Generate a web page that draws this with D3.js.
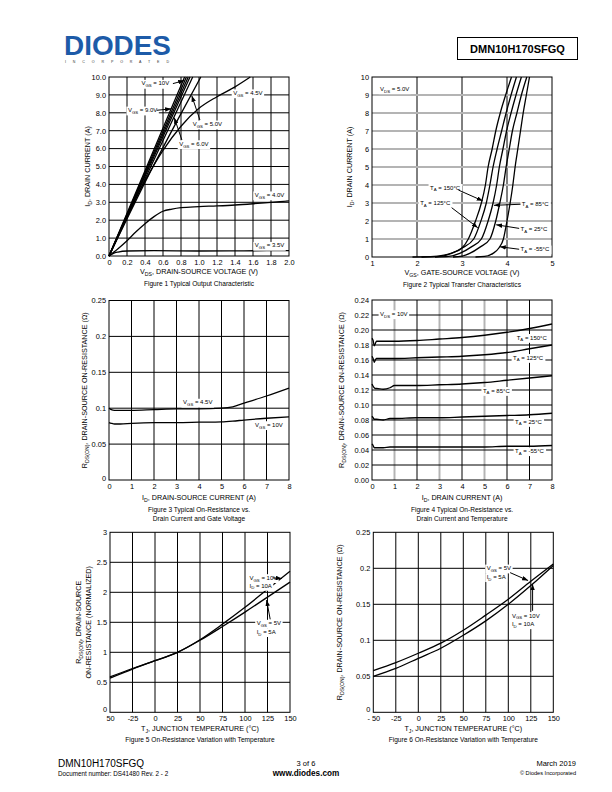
<!DOCTYPE html>
<html lang="en">
<head>
<meta charset="utf-8">
<title>DMN10H170SFGQ Typical Characteristics</title>
<style>
   html,body { margin:0; padding:0; background:white; }
   svg { display:block; font-family:"Liberation Sans", Arial, sans-serif; }
</style>
<script src="https://cdn.jsdelivr.net/npm/d3@7"></script>
</head>
<body>
<script>
// ---- Figure 1: output characteristic, [VDS (V), ID (A)]
const f1XTicks = [0,0.2,0.4,0.6,0.8,1.0,1.2,1.4,1.6,1.8,2.0];
const f1XLabels = ['0','0.2','0.4','0.6','0.8','1.0','1.2','1.4','1.6','1.8','2.0'];
const f1YTicks = [0,1,2,3,4,5,6,7,8,9,10];
const f1YLabels = ['0.0','1.0','2.0','3.0','4.0','5.0','6.0','7.0','8.0','9.0','10.0'];
const f1Vgs10 = [[0,0],[0.42,5],[0.84,10]];
const f1Vgs9 = [[0,0],[0.43,5],[0.86,10]];
const f1Vgs8 = [[0,0],[0.44,5],[0.88,10]];
const f1Vgs7 = [[0,0],[0.45,5],[0.90,10]];
const f1Vgs6 = [[0,0],[0.465,5],[0.93,10]];
const f1Vgs5 = [[0,0],[0.49,5],[0.73,7.3],[1.02,10]];
const f1Vgs45 = [[0,0],[0.2,2.2],[0.4,4.2],[0.6,5.9],[0.8,7.25],[1.0,8.25],[1.2,8.9],[1.4,9.45],[1.57,10]];
const f1Vgs4 = [[0,0],[0.1,0.4],[0.2,0.85],[0.3,1.35],[0.4,1.8],[0.5,2.2],[0.6,2.5],[0.7,2.62],[0.8,2.7],[1.0,2.76],[1.2,2.8],[1.4,2.85],[1.6,2.92],[1.8,3.0],[2.0,3.08]];
const f1Vgs35 = [[0,0],[0.05,0.15],[0.1,0.22],[0.2,0.28],[0.5,0.3],[1.0,0.28],[1.5,0.29],[2.0,0.3]];

// ---- Figure 2: transfer characteristic, [VGS (V), ID (A)]
const f2XTicks = [1,2,3,4,5];
const f2XLabels = ['1','2','3','4','5'];
const f2YTicks = [0,1,2,3,4,5,6,7,8,9,10];
const f2YLabels = ['0','1','2','3','4','5','6','7','8','9','10'];
const f2Ta150 = [[1.9,0],[2.3,0.02],[2.6,0.1],[2.8,0.25],[3.0,0.5],[3.14,1],[3.3,2],[3.43,3],[3.52,4],[3.58,5],[3.67,6],[3.75,7],[3.85,8],[3.97,9],[4.10,10]];
const f2Ta125 = [[2.1,0],[2.5,0.03],[2.77,0.2],[3.0,0.5],[3.26,1],[3.42,2],[3.54,3],[3.62,4],[3.69,5],[3.78,6],[3.88,7],[3.98,8],[4.09,9],[4.21,10]];
const f2Ta85 = [[2.4,0],[2.7,0.03],[2.95,0.2],[3.2,0.55],[3.43,1],[3.58,2],[3.69,3],[3.77,4],[3.83,5],[3.91,6],[3.99,7],[4.09,8],[4.2,9],[4.32,10]];
const f2Ta25 = [[2.8,0],[3.0,0.05],[3.17,0.2],[3.4,0.55],[3.62,1],[3.75,2],[3.84,3],[3.92,4],[3.98,5],[4.05,6],[4.12,7],[4.22,8],[4.32,9],[4.44,10]];
const f2Tam55 = [[3.3,0],[3.5,0.03],[3.69,0.2],[3.82,0.5],[3.92,1],[4.0,2],[4.07,3],[4.13,4],[4.18,5],[4.24,6],[4.30,7],[4.36,8],[4.43,9],[4.50,10]];

// ---- Figure 3: RDS(ON) vs ID and VGS
const f3XTicks = [0,1,2,3,4,5,6,7,8];
const f3XLabels = ['0','1','2','3','4','5','6','7','8'];
const f3YTicks = [0,0.05,0.1,0.15,0.2,0.25];
const f3YLabels = ['0','0.05','0.1','0.15','0.2','0.25'];
const f3Id = [0,0.1,0.25,0.5,1,2,3,4,5,5.5,6,7,8];
const f3Vgs45 = [0.100,0.098,0.097,0.097,0.097,0.098,0.099,0.099,0.100,0.102,0.107,0.117,0.128];
const f3Vgs10 = [0.080,0.079,0.078,0.078,0.079,0.080,0.080,0.0805,0.081,0.082,0.0835,0.086,0.088];

// ---- Figure 4: RDS(ON) vs ID and temperature
const f4XTicks = [0,1,2,3,4,5,6,7,8];
const f4XLabels = ['0','1','2','3','4','5','6','7','8'];
const f4YTicks = [0,0.02,0.04,0.06,0.08,0.10,0.12,0.14,0.16,0.18,0.20,0.22,0.24];
const f4YLabels = ['0.00','0.02','0.04','0.06','0.08','0.10','0.12','0.14','0.16','0.18','0.20','0.22','0.24'];
const f4Id = [0,0.05,0.1,0.15,0.2,0.5,0.8,1,2,3,4,5,6,7,8];
const f4Ta150 = [0.189,0.186,0.179,0.182,0.185,0.185,0.185,0.185,0.186,0.188,0.190,0.193,0.197,0.202,0.208];
const f4Ta125 = [0.165,0.162,0.157,0.160,0.162,0.162,0.162,0.162,0.163,0.164,0.165,0.167,0.170,0.175,0.180];
const f4Ta85 = [0.128,0.125,0.123,0.122,0.122,0.121,0.123,0.126,0.126,0.127,0.128,0.130,0.133,0.136,0.139];
const f4Ta25 = [0.085,0.083,0.081,0.081,0.081,0.080,0.082,0.082,0.083,0.083,0.084,0.085,0.086,0.087,0.089];
const f4Tam55 = [0.048,0.046,0.043,0.043,0.043,0.043,0.044,0.044,0.044,0.044,0.044,0.044,0.045,0.045,0.046];

// ---- Figure 5 / 6: RDS(ON) vs junction temperature
const fTj = [-50,-25,0,25,50,75,100,125,150];
const f5XLabels = ['50','-25','0','25','50','75','100','125','150'];
const f5YTicks = [0,0.5,1,1.5,2,2.5,3];
const f5YLabels = ['0','0.5','1','1.5','2','2.5','3'];
const f5Vgs10 = [0.59,0.73,0.86,1.0,1.21,1.47,1.75,2.05,2.35];
const f5Vgs5 = [0.57,0.72,0.86,1.0,1.2,1.43,1.67,1.92,2.17];
const f6XLabels = ['- 50','-25','0','25','50','75','100','125','150'];
const f6YTicks = [0,0.05,0.1,0.15,0.2,0.25];
const f6YLabels = ['0','0.05','0.1','0.15','0.2','0.25'];
const f6Vgs5 = [0.058,0.069,0.082,0.096,0.114,0.135,0.157,0.182,0.206];
const f6Vgs10 = [0.050,0.061,0.075,0.089,0.107,0.127,0.150,0.176,0.204];

const FONT = '"Liberation Sans", Arial, sans-serif';
const svg = d3.select('body').append('svg').attr('width',612).attr('height',792);
svg.append('rect').attr('width',612).attr('height',792).attr('fill','white');
svg.append('defs').append('marker')
   .attr('id','ah').attr('viewBox','0 0 8 6').attr('refX',8).attr('refY',3)
   .attr('markerWidth',6).attr('markerHeight',4.5).attr('markerUnits','userSpaceOnUse')
   .attr('orient','auto')
   .append('path').attr('d','M0,0L8,3L0,6Z').attr('fill','#000');

// text with V_{GS} style subscripts
function frich(t, str, size) {
   let shifted = false;
   for (const p of str.split(/(_\{[^}]*\})/)) {
      if (!p) continue;
      if (p.startsWith('_{')) {
         t.append('tspan').attr('font-size',size*0.72).attr('dy',size*0.3).text(p.slice(2,-1));
         shifted = true;
      } else {
         t.append('tspan').attr('dy',shifted?-size*0.3:null).text(p);
         shifted = false;
      }
   }
   return t;
}

function fpanel(o) {
   const x = d3.scaleLinear().domain(o.xdom).range([o.l,o.r]);
   const y = d3.scaleLinear().domain(o.ydom).range([o.b,o.t]);
   const g = svg.append('g');
   const isGray = (arr,d) => (arr||[]).some(v => Math.abs(v-d)<1e-9);
   const inner = (ticks,dom) => ticks.filter(d => d>dom[0]+1e-9 && d<dom[1]-1e-9);
   g.append('g').selectAll('line').data(inner(o.xticks,o.xdom)).join('line')
      .attr('x1',d=>x(d)).attr('x2',d=>x(d)).attr('y1',o.t).attr('y2',o.b)
      .attr('stroke',d=>isGray(o.grayX,d)?'#b4b4b4':'#000')
      .attr('stroke-width',d=>isGray(o.grayX,d)?2:1);
   g.append('g').selectAll('line').data(inner(o.yticks,o.ydom)).join('line')
      .attr('y1',d=>y(d)).attr('y2',d=>y(d)).attr('x1',o.l).attr('x2',o.r)
      .attr('stroke',d=>isGray(o.grayY,d)?'#b4b4b4':'#000')
      .attr('stroke-width',d=>isGray(o.grayY,d)?2:1);
   g.append('rect').attr('x',o.l).attr('y',o.t).attr('width',o.r-o.l).attr('height',o.b-o.t)
      .attr('fill','none').attr('stroke','#000').attr('stroke-width',1);
   const ax = g.append('g').attr('transform',`translate(0,${o.b})`)
      .call(d3.axisBottom(x).tickValues(o.xticks).tickFormat((d,i)=>o.xlabels[i]).tickSize(0).tickPadding(o.xpad||4));
   const ay = g.append('g').attr('transform',`translate(${o.l},0)`)
      .call(d3.axisLeft(y).tickValues(o.yticks).tickFormat((d,i)=>o.ylabels[i]).tickSize(0).tickPadding(3));
   for (const a of [ax,ay]) {
      a.select('.domain').remove();
      a.attr('font-family',FONT).attr('font-size',7.4);
      a.selectAll('text').attr('fill','#000');
   }
   // the zero label sits a little above the bottom edge in some panels
   if (o.zeroUp) ay.selectAll('.tick text').filter((d,i)=>i===0).attr('y',-o.zeroUp);
   // axis titles and caption
   const cx = (o.l+o.r)/2, cy = (o.t+o.b)/2;
   frich(g.append('text').attr('x',cx).attr('y',o.b+o.titleDy).attr('text-anchor','middle')
      .attr('font-size',7.2), o.xtitle, 7.2);
   o.ytitle.forEach((s,i) => {
      frich(g.append('text').attr('transform',`translate(${o.ytx[i]},${cy}) rotate(-90)`)
         .attr('text-anchor','middle').attr('dy','0.35em').attr('font-size',7.2), s, 7.2);
   });
   o.caption.forEach((s,i) => {
      g.append('text').attr('x',cx).attr('y',o.b+o.capDy+i*9.3).attr('text-anchor','middle')
         .attr('font-size',6.6).text(s);
   });
   const curves = g.append('g');
   const notes = g.append('g');
   return {x,y,g,curves,notes};
}

function fcurve(p, pts) {
   p.curves.append('path').datum(pts)
      .attr('d', d3.line().x(d=>p.x(d[0])).y(d=>p.y(d[1])).curve(d3.curveMonotoneX))
      .attr('fill','none').attr('stroke','#000').attr('stroke-width',1.3);
}
const fzip = (xs,ys) => xs.map((v,i)=>[v,ys[i]]);

function fnote(p, xv, yv, str) {
   const size = 6;
   const t = p.notes.append('text').attr('x',p.x(xv)).attr('y',p.y(yv)+size*0.3).attr('font-size',size);
   frich(t, str, size);
   const bb = t.node().getBBox();
   p.notes.insert('rect','text').attr('x',bb.x-1.5).attr('y',bb.y-0.5)
      .attr('width',bb.width+3).attr('height',bb.height+1).attr('fill','white');
}
function farrow(p, a, b) {
   p.notes.append('line').attr('x1',p.x(a[0])).attr('y1',p.y(a[1]))
      .attr('x2',p.x(b[0])).attr('y2',p.y(b[1]))
      .attr('stroke','#000').attr('stroke-width',1).attr('marker-end','url(#ah)');
}

// ---- header
svg.append('text').attr('x',64).attr('y',55).attr('font-size',27).attr('font-weight','bold')
   .attr('fill','#1d5ba8').attr('textLength',107).attr('lengthAdjust','spacingAndGlyphs').text('DIODES');
svg.append('text').attr('x',65).attr('y',62.5).attr('font-size',3.6).attr('fill','#333')
   .attr('textLength',104).attr('lengthAdjust','spacing').text('I N C O R P O R A T E D');
svg.append('rect').attr('x',457.5).attr('y',37.5).attr('width',120).attr('height',22)
   .attr('fill','none').attr('stroke','#000').attr('stroke-width',1);
svg.append('text').attr('x',517.5).attr('y',52.5).attr('text-anchor','middle').attr('font-size',11)
   .attr('font-weight','bold').text('DMN10H170SFGQ');

// ---- Figure 1
const p1 = fpanel({l:109,r:289,t:77,b:256,xdom:[0,2],ydom:[0,10],
   xticks:f1XTicks,xlabels:f1XLabels,yticks:f1YTicks,ylabels:f1YLabels,
   xtitle:'V_{DS}, DRAIN-SOURCE VOLTAGE (V)',ytitle:['I_{D}, DRAIN CURRENT (A)'],ytx:[87],
   titleDy:17.5,capDy:29.5,caption:['Figure 1 Typical Output Characteristic']});
[f1Vgs10,f1Vgs9,f1Vgs8,f1Vgs7,f1Vgs6,f1Vgs5,f1Vgs45,f1Vgs4,f1Vgs35].forEach(c=>fcurve(p1,c));
fnote(p1,0.36,9.63,'V_{GS} = 10V'); farrow(p1,[0.71,9.63],[0.835,9.8]);
fnote(p1,0.21,8.14,'V_{GS} = 9.0V'); farrow(p1,[0.53,8.14],[0.69,8.22]);
fnote(p1,0.93,7.36,'V_{GS} = 5.0V'); farrow(p1,[1.01,7.6],[0.92,8.95]);
fnote(p1,0.78,6.26,'V_{GS} = 6.0V'); farrow(p1,[0.81,6.48],[0.725,7.73]);
fnote(p1,1.38,9.1,'V_{GS} = 4.5V');
fnote(p1,1.62,3.4,'V_{GS} = 4.0V');
fnote(p1,1.62,0.58,'V_{GS} = 3.5V');

// ---- Figure 2
const p2 = fpanel({l:372,r:552,t:77,b:257,xdom:[1,5],ydom:[0,10],
   xticks:f2XTicks,xlabels:f2XLabels,yticks:f2YTicks,ylabels:f2YLabels,grayY:[1,2,3,4,5,6,7,8,9],
   xtitle:'V_{GS}, GATE-SOURCE VOLTAGE (V)',ytitle:['I_{D}, DRAIN CURRENT (A)'],ytx:[349],
   titleDy:17.5,capDy:29.5,caption:['Figure 2 Typical Transfer Characteristics']});
[f2Ta150,f2Ta125,f2Ta85,f2Ta25,f2Tam55].forEach(c=>fcurve(p2,c));
fnote(p2,1.18,9.33,'V_{DS} = 5.0V');
fnote(p2,2.29,3.85,'T_{A} = 150°C'); farrow(p2,[2.92,3.72],[3.46,3.12]);
fnote(p2,2.07,2.98,'T_{A} = 125°C'); farrow(p2,[2.77,2.74],[3.35,1.63]);
fnote(p2,4.33,2.93,'T_{A} = 85°C'); farrow(p2,[4.3,2.93],[3.71,2.87]);
fnote(p2,4.30,1.54,'T_{A} = 25°C'); farrow(p2,[4.27,1.59],[3.76,1.79]);
fnote(p2,4.30,0.43,'T_{A} = -55°C'); farrow(p2,[4.27,0.43],[3.84,0.57]);

// ---- Figure 3
const p3 = fpanel({l:109,r:289,t:300.5,b:480,xdom:[0,8],ydom:[0,0.25],
   xticks:f3XTicks,xlabels:f3XLabels,yticks:f3YTicks,ylabels:f3YLabels,zeroUp:1.5,
   xtitle:'I_{D}, DRAIN-SOURCE CURRENT (A)',ytitle:['R_{DS(ON)}, DRAIN-SOURCE ON-RESISTANCE (Ω)'],ytx:[84],
   titleDy:19.5,capDy:32,caption:['Figure 3 Typical On-Resistance vs.','Drain Current and Gate Voltage']});
fcurve(p3,fzip(f3Id,f3Vgs45)); fcurve(p3,fzip(f3Id,f3Vgs10));
fnote(p3,3.29,0.108,'V_{GS} = 4.5V');
fnote(p3,6.49,0.0767,'V_{GS} = 10V');

// ---- Figure 4
const p4 = fpanel({l:372,r:552,t:300,b:480,xdom:[0,8],ydom:[0,0.24],
   xticks:f4XTicks,xlabels:f4XLabels,yticks:f4YTicks,ylabels:f4YLabels,grayX:[1,3,5],
   xtitle:'I_{D}, DRAIN CURRENT (A)',ytitle:['R_{DS(ON)}, DRAIN-SOURCE ON-RESISTANCE (Ω)'],ytx:[341],
   titleDy:19.5,capDy:32,caption:['Figure 4 Typical On-Resistance vs.','Drain Current and Temperature']});
[f4Ta150,f4Ta125,f4Ta85,f4Ta25,f4Tam55].forEach(c=>fcurve(p4,fzip(f4Id,c)));
fnote(p4,0.36,0.2213,'V_{DS} = 10V');
fnote(p4,6.43,0.1897,'T_{A} = 150°C');
fnote(p4,6.27,0.163,'T_{A} = 125°C');
fnote(p4,4.93,0.119,'T_{A} = 85°C');
fnote(p4,6.36,0.0777,'T_{A} = 25°C');
fnote(p4,6.36,0.0387,'T_{A} = -55°C');

// ---- Figure 5
const p5 = fpanel({l:110,r:290,t:532.3,b:712.3,xdom:[-50,150],ydom:[0,3],
   xticks:fTj,xlabels:f5XLabels,yticks:f5YTicks,ylabels:f5YLabels,zeroUp:3,xpad:3,
   xtitle:'T_{J}, JUNCTION TEMPERATURE (°C)',ytitle:['R_{DS(ON)}, DRAIN-SOURCE','ON-RESISTANCE (NORMALIZED)'],ytx:[78,88],
   titleDy:18.5,capDy:30,caption:['Figure 5 On-Resistance Variation with Temperature']});
fcurve(p5,fzip(fTj,f5Vgs10)); fcurve(p5,fzip(fTj,f5Vgs5));
fnote(p5,105,2.24,'V_{GS} = 10V'); fnote(p5,105,2.11,'I_{D} = 10A');
farrow(p5,[131,2.24],[141,2.23]);
fnote(p5,113,1.48,'V_{GS} = 5V'); fnote(p5,113,1.34,'I_{D} = 5A');
farrow(p5,[128,1.55],[124,1.87]);

// ---- Figure 6
const p6 = fpanel({l:373.3,r:553.3,t:532.3,b:712.3,xdom:[-50,150],ydom:[0,0.25],
   xticks:fTj,xlabels:f6XLabels,yticks:f6YTicks,ylabels:f6YLabels,zeroUp:3,xpad:3,
   xtitle:'T_{J}, JUNCTION TEMPERATURE (°C)',ytitle:['R_{DS(ON)}, DRAIN-SOURCE ON-RESISTANCE (Ω)'],ytx:[339],
   titleDy:18.5,capDy:30,caption:['Figure 6 On-Resistance Variation with Temperature']});
fcurve(p6,fzip(fTj,f6Vgs5)); fcurve(p6,fzip(fTj,f6Vgs10));
fnote(p6,76,0.2,'V_{GS} = 5V'); fnote(p6,76,0.188,'I_{D} = 5A');
farrow(p6,[102,0.194],[122,0.183]);
fnote(p6,104,0.134,'V_{GS} = 10V'); fnote(p6,104,0.1226,'I_{D} = 10A');
farrow(p6,[127,0.141],[127,0.178]);

// ---- footer
svg.append('text').attr('x',58).attr('y',767).attr('font-size',10).text('DMN10H170SFGQ');
svg.append('text').attr('x',58).attr('y',775.5).attr('font-size',6.3).text('Document number: DS41480  Rev. 2 - 2');
svg.append('text').attr('x',306).attr('y',766).attr('text-anchor','middle').attr('font-size',7.5).text('3 of 6');
svg.append('text').attr('x',306).attr('y',775.5).attr('text-anchor','middle').attr('font-size',8.2)
   .attr('font-weight','bold').text('www.diodes.com');
svg.append('text').attr('x',576).attr('y',766).attr('text-anchor','end').attr('font-size',7.5).text('March 2019');
svg.append('text').attr('x',576).attr('y',774.5).attr('text-anchor','end').attr('font-size',5.6).text('© Diodes Incorporated');
</script>
</body>
</html>
